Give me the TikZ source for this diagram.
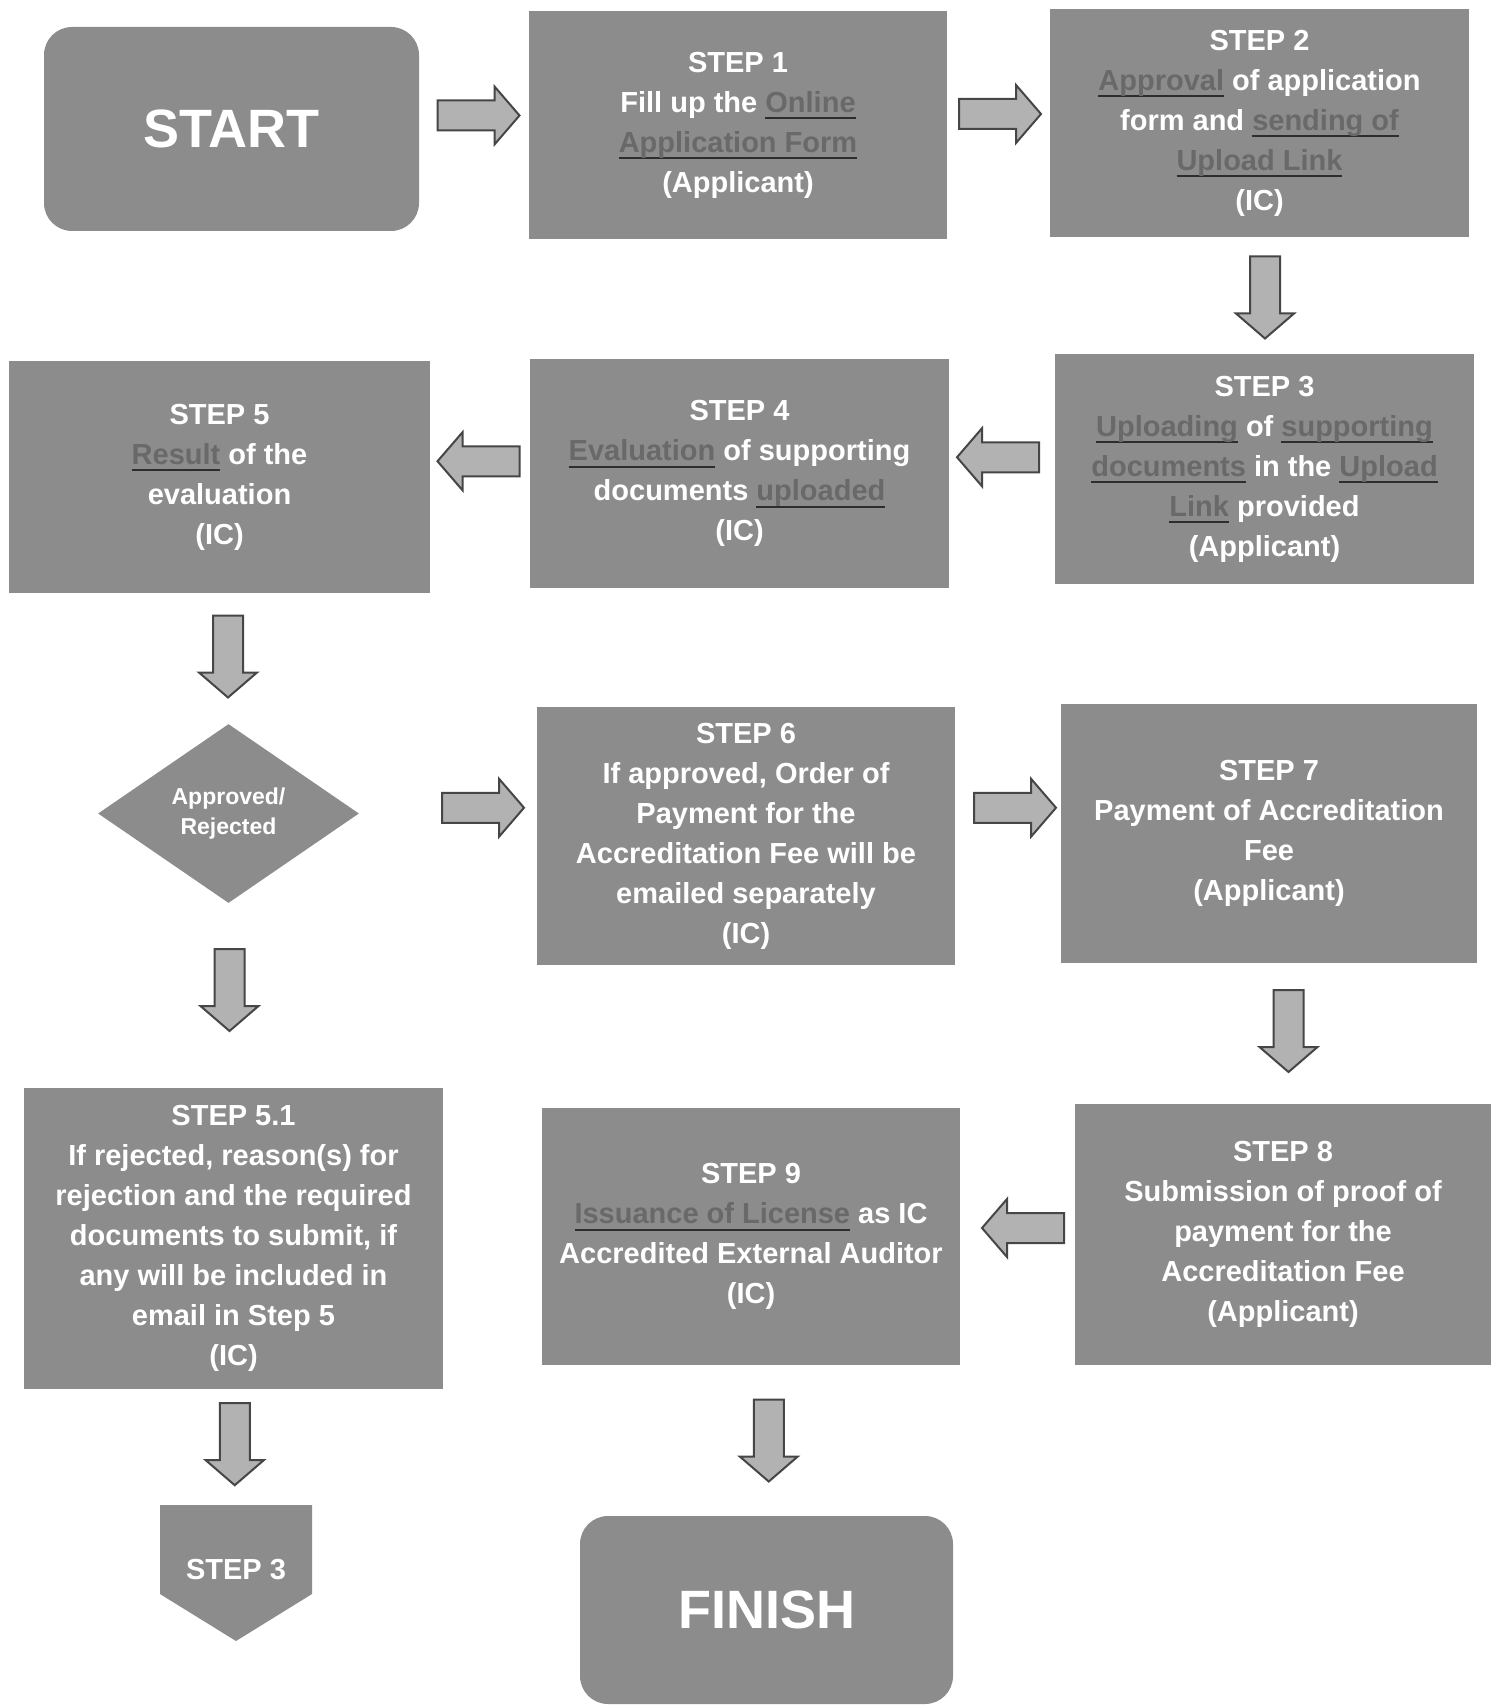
\documentclass[tikz,border=0pt]{standalone}
\usepackage{fontspec}
\setmainfont{Liberation Sans}
\usetikzlibrary{shapes.geometric,calc}
\definecolor{boxgray}{RGB}{140,140,140}
\definecolor{arrowgray}{RGB}{178,178,178}
\definecolor{arrowline}{RGB}{70,70,70}
\definecolor{ultext}{RGB}{105,105,105}
\definecolor{ulline}{RGB}{45,45,45}
\newcommand\mystepfont{\bfseries\fontsize{14.5pt}{20pt}\selectfont}
\newcommand\mybigfont{\bfseries\fontsize{27pt}{30pt}\selectfont}
\newcommand\mydecfont{\bfseries\fontsize{11.5pt}{15pt}\selectfont}
\newcommand\ulw[1]{{\setbox0=\hbox{{\color{ultext}#1}}\rlap{{\color{ulline}\rule[-3.5pt]{\wd0}{1pt}}}\box0}}
\tikzset{
  box/.style={rectangle, fill=boxgray, text=white, font=\mystepfont, align=center, inner sep=0pt},
  roundbox/.style={box, rounded corners=14pt, font=\mybigfont},
  decbox/.style={diamond, fill=boxgray, text=white, font=\mydecfont, align=center, inner sep=0pt, aspect=1.46},
  barrow/.pic={\draw[fill=arrowgray, draw=arrowline, line width=1pt, line join=miter]
     (-41,-15) -- (16,-15) -- (16,-29) -- (41,0) -- (16,29) -- (16,15) -- (-41,15) -- cycle;}
}
\begin{document}
\begin{tikzpicture}[x=0.5pt,y=-0.5pt]
\fill[white] (0,0) rectangle (1494,1706);
\useasboundingbox (0,0) rectangle (1494,1706);

\node[roundbox, minimum width=187.5pt, minimum height=102pt] (start) at (231.5,129) {START};
\node[box, minimum width=209pt, minimum height=114pt] (s1) at (738,125)
  {STEP 1\\Fill up the \ulw{Online}\\\ulw{Application Form}\\(Applicant)};
\node[box, minimum width=209.5pt, minimum height=114pt] (s2) at (1259.5,123)
  {STEP 2\\\ulw{Approval} of application\\form and \ulw{sending of}\\\ulw{Upload Link}\\(IC)};
\node[box, minimum width=209.5pt, minimum height=115pt] (s3) at (1264.5,469)
  {STEP 3\\\ulw{Uploading} of \ulw{supporting}\\\ulw{documents} in the \ulw{Upload}\\\ulw{Link} provided\\(Applicant)};
\node[box, minimum width=209.5pt, minimum height=114.5pt] (s4) at (739.5,473.5)
  {STEP 4\\\ulw{Evaluation} of supporting\\documents \ulw{uploaded}\\(IC)};
\node[box, minimum width=210.5pt, minimum height=116pt] (s5) at (219.5,477)
  {STEP 5\\\ulw{Result} of the\\evaluation\\(IC)};
\node[decbox, minimum width=130.5pt, minimum height=89.5pt] (dec) at (228.5,813.5)
  {Approved/\\Rejected};
\node[box, minimum width=209pt, minimum height=129pt] (s6) at (746,836)
  {STEP 6\\If approved, Order of\\Payment for the\\Accreditation Fee will be\\emailed separately\\(IC)};
\node[box, minimum width=208pt, minimum height=129.5pt] (s7) at (1269,833.5)
  {STEP 7\\Payment of Accreditation\\Fee\\(Applicant)};
\node[box, minimum width=208pt, minimum height=130.5pt] (s8) at (1283,1234.5)
  {STEP 8\\Submission of proof of\\payment for the\\Accreditation Fee\\(Applicant)};
\node[box, minimum width=209pt, minimum height=128.5pt] (s9) at (751,1236.5)
  {STEP 9\\\ulw{Issuance of License} as IC\\Accredited External Auditor\\(IC)};
\node[box, minimum width=209.5pt, minimum height=150.5pt] (s51) at (233.5,1238.5)
  {STEP 5.1\\If rejected, reason(s) for\\rejection and the required\\documents to submit, if\\any will be included in\\email in Step 5\\(IC)};
\fill[boxgray] (160,1505) -- (312,1505) -- (312,1594) -- (236,1641) -- (160,1594) -- cycle;
\coordinate (g3top) at (236,1505);
\node[text=white, font=\mystepfont] (g3) at (236,1570) {STEP 3};
\node[roundbox, minimum width=186.5pt, minimum height=94pt] (finish) at (766.5,1610) {FINISH};

\pic at ($(start.east)!0.5!(s1.west)+(4.5,-11.5)$) {barrow};
\pic at ($(s1.east)!0.5!(s2.west)+(1.5,-10)$) {barrow};
\pic[rotate=-90] at ($(s2.south)!0.5!(s3.north)+(3,2)$) {barrow};
\pic[rotate=180] at ($(s3.west)!0.5!(s4.east)+(-4,-14)$) {barrow};
\pic[rotate=180] at ($(s4.west)!0.5!(s5.east)+(-1.5,-14)$) {barrow};
\pic[rotate=-90] at ($(s5.south)!0.5!(dec.north)+(4,-2)$) {barrow};
\pic at ($(dec.east)!0.5!(s6.west)+(35,-17)$) {barrow};
\pic at ($(s6.east)!0.5!(s7.west)+(7,-27)$) {barrow};
\pic[rotate=-90] at ($(dec.south)!0.5!(s51.north)+(-1.5,-5.5)$) {barrow};
\pic[rotate=-90] at ($(s7.south)!0.5!(s8.north)+(12.5,-2.5)$) {barrow};
\pic[rotate=180] at ($(s8.west)!0.5!(s9.east)+(5.5,-7.5)$) {barrow};
\pic[rotate=-90] at ($(s51.south)!0.5!(g3top)+(0,-3)$) {barrow};
\pic[rotate=-90] at ($(s9.south)!0.5!(finish.north)+(10,0)$) {barrow};
\end{tikzpicture}
\end{document}
